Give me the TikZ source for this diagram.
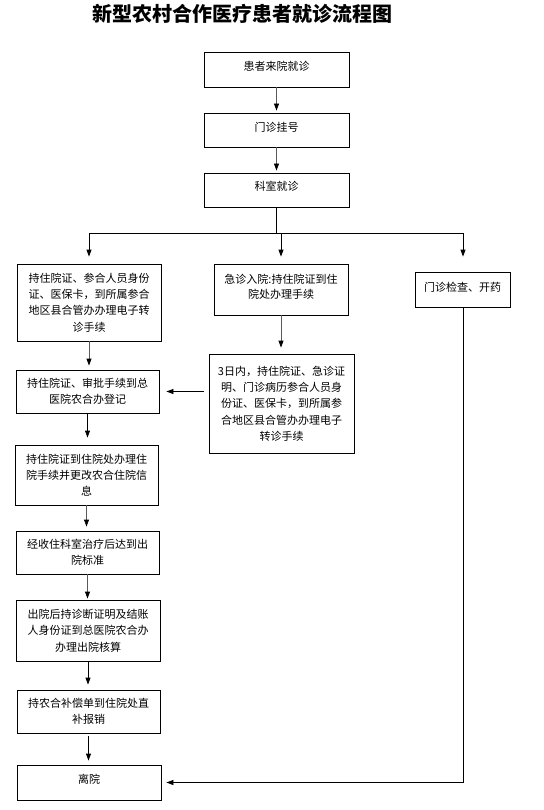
\documentclass[tikz,border=0pt]{standalone}
\usepackage{fontspec}
\setmainfont{Noto Sans CJK SC}
\usetikzlibrary{arrows.meta,calc}
\tikzset{
  box/.style={draw=black, line width=0.8pt, inner sep=1pt, align=center, font=\fontsize{11}{16.3}\selectfont},
  arr/.style={line width=0.8pt, -{Triangle[width=5pt,length=7pt,color=black]}},
  garr/.style={arr, draw=black!65},
  ln/.style={line width=0.8pt, draw=black}
}
\newcommand{\upby}[2]{\raisebox{#1}[\height][\depth]{#2}}
\begin{document}
\begin{tikzpicture}[x=1pt,y=-1pt]
\useasboundingbox (0,0) rectangle (543,810);
\node[font=\fontsize{20}{22}\selectfont\bfseries] (title) at (242.5,14) {新型农村合作医疗患者就诊流程图};
\node[box, minimum width=145pt, minimum height=35pt] (b1) at (276.5,69.5) {\upby{3.5pt}{患者来院就诊}};
\node[box, minimum width=145pt, minimum height=34pt] (b2) at (276.5,130) {\upby{3pt}{门诊挂号}};
\node[box, minimum width=145pt, minimum height=34pt] (b3) at (276.5,190) {\upby{3.5pt}{科室就诊}};
\node[box, minimum width=144pt, minimum height=77pt] (l1) at (89,302.5) {持住院证、参合人员身份\\证、医保卡，到所属参合\\地区县合管办办理电子转\\诊手续};
\node[box, minimum width=134pt, minimum height=51pt] (c1) at (281,289.5) {\upby{3pt}{\shortstack{急诊入院:持住院证到住\\[1.5pt]院处办理手续}}};
\node[box, minimum width=95pt, minimum height=35pt] (r1) at (462.5,289.5) {\upby{2.5pt}{门诊检查、开药}};
\node[box, minimum width=143pt, minimum height=43pt] (l2) at (87.5,391.5) {持住院证、审批手续到总\\医院农合办登记};
\node[box, minimum width=145pt, minimum height=99pt] (c2) at (281.5,403.5) {3日内，持住院证、急诊证\\明、门诊病历参合人员身\\份证、医保卡，到所属参\\合地区县合管办办理电子\\转诊手续};
\node[box, minimum width=143pt, minimum height=60pt] (l3) at (86.5,475) {持住院证到住院处办理住\\院手续并更改农合住院信\\息};
\node[box, minimum width=143pt, minimum height=43pt] (l4) at (87.5,552.5) {经收住科室治疗后达到出\\院标准};
\node[box, minimum width=144pt, minimum height=61pt] (l5) at (88,630.5) {出院后持诊断证明及结账\\人身份证到总医院农合办\\办理出院核算};
\node[box, minimum width=143pt, minimum height=43pt] (l6) at (88.5,711.5) {持农合补偿单到住院处直\\补报销};
\node[box, minimum width=144pt, minimum height=35pt] (l7) at (89,782.5) {\upby{3.5pt}{离院}};
\coordinate (br) at (281,233);
\coordinate (brL) at (89,233);
\coordinate (brR) at (463,233);
\draw[garr, shorten >=2pt] (b1.south) -- (b2.north);
\draw[garr, shorten >=2pt] (b2.south) -- (b3.north);
\draw[ln] (b3.south) -- (b3.south |- br);
\draw[ln] (brL) -- (brR);
\draw[arr, shorten >=7pt] (brL) -- (brL |- l1.north);
\draw[arr, shorten >=7pt] (br) -- (br |- c1.north);
\draw[arr, shorten >=15pt] (brR) -- (brR |- r1.north);
\draw[garr, shorten >=6pt] (c1.south) -- (c1.south |- c2.north);
\draw[arr, shorten <=5pt, shorten >=7pt] (c2.west |- l2.east) -- (l2.east);
\draw[garr, shorten >=4pt] (l1.south) -- (l1.south |- l2.north);
\draw[arr, shorten >=7pt] (l2.south) -- (l2.south |- l3.north);
\draw[garr, shorten >=4pt] (l3.south) -- (l3.south |- l4.north);
\draw[garr, shorten >=1pt] (l4.south) -- (l4.south |- l5.north);
\draw[arr, shorten >=5pt] (l5.south) -- (l5.south |- l6.north);
\draw[arr, shorten <=3pt, shorten >=4pt] (l6.south) -- (l6.south |- l7.north);
\draw[arr, shorten >=5pt] (brR |- r1.south) |- (l7.east);
\end{tikzpicture}
\end{document}
